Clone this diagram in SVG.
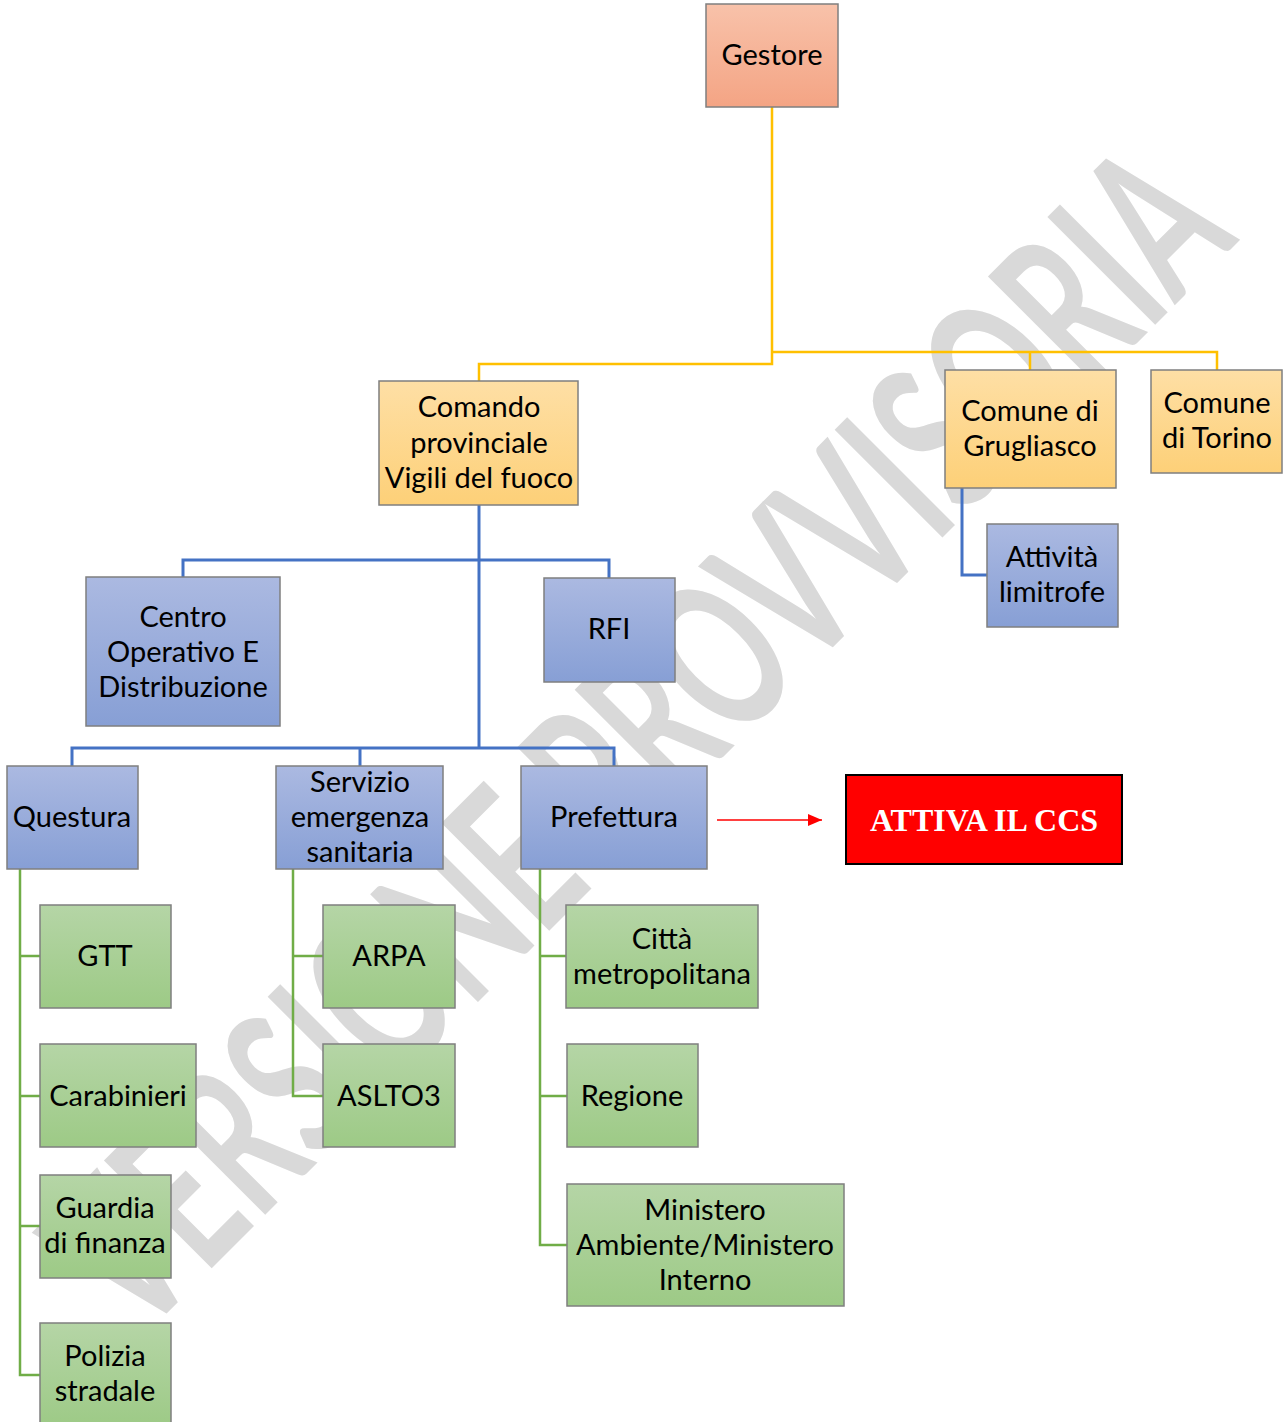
<svg xmlns="http://www.w3.org/2000/svg" width="1285" height="1422" viewBox="0 0 1285 1422">
<defs>
<linearGradient id="gSalmon" x1="0" y1="0" x2="0" y2="1"><stop offset="0" stop-color="#f8c2aa"/><stop offset="1" stop-color="#f4a484"/></linearGradient>
<linearGradient id="gYellow" x1="0" y1="0" x2="0" y2="1"><stop offset="0" stop-color="#fedfa5"/><stop offset="1" stop-color="#fdd078"/></linearGradient>
<linearGradient id="gBlue" x1="0" y1="0" x2="0" y2="1"><stop offset="0" stop-color="#abb9e1"/><stop offset="1" stop-color="#879fd5"/></linearGradient>
<linearGradient id="gGreen" x1="0" y1="0" x2="0" y2="1"><stop offset="0" stop-color="#b5d5a6"/><stop offset="1" stop-color="#9dca86"/></linearGradient>
<marker id="arrowRed" viewBox="0 0 10 10" refX="10" refY="5" markerWidth="14" markerHeight="12" markerUnits="userSpaceOnUse" orient="auto" preserveAspectRatio="none"><path d="M0,0 L10,5 L0,10 Z" fill="#ff0000"/></marker>
</defs>
<style>
.box{stroke:#7f7f7f;stroke-width:1.5}
.t{font-family:Lato,"Liberation Sans",sans-serif;font-size:29px;fill:#000;text-anchor:middle}
.yl{fill:none;stroke:#ffc000;stroke-width:2.5}
.bl{fill:none;stroke:#4472c4;stroke-width:3}
.gl{fill:none;stroke:#70ad47;stroke-width:2.5}
.wm{font-family:Lato,"Liberation Sans",sans-serif;font-size:155px;font-weight:bold;fill:#d9d9d9}
</style>
<rect width="1285" height="1422" fill="#ffffff"/>
<g id="watermark" transform="translate(140,1340) rotate(-45) scale(1,1.36)">
<text class="wm" x="0" y="0" textLength="1555" lengthAdjust="spacingAndGlyphs">VERSIONE PROVVISORIA</text>
</g>
<g id="connectors">
<path class="yl" d="M772,107 V364 H479 V381"/>
<path class="yl" d="M772,352 H1217 V370"/>
<path class="yl" d="M1030,352 V370"/>
<path class="bl" d="M479,505 V748"/>
<path class="bl" d="M183,577 V560 H609 V578"/>
<path class="bl" d="M72,766 V748 H614 V766"/>
<path class="bl" d="M360,748 V766"/>
<path class="bl" d="M962,488 V575 H987"/>
<path class="gl" d="M20,869 V1375 H40"/>
<path class="gl" d="M20,956 H40 M20,1096 H40 M20,1226 H40"/>
<path class="gl" d="M293,869 V1096 H323 M293,956 H323"/>
<path class="gl" d="M540,869 V1245 H567 M540,956 H566 M540,1096 H567"/>
<line x1="717" y1="820" x2="822" y2="820" stroke="#ff0000" stroke-width="1.5" marker-end="url(#arrowRed)"/>
</g>
<g id="gestore"><rect class="box" x="706" y="4" width="132" height="103" fill="url(#gSalmon)"/><text class="t" x="772" y="65">Gestore</text></g>
<g id="comando"><rect class="box" x="379" y="381" width="199" height="124" fill="url(#gYellow)"/><text class="t" x="479" y="417">Comando</text><text class="t" x="479" y="453">provinciale</text><text class="t" x="479" y="488">Vigili del fuoco</text></g>
<g id="grugliasco"><rect class="box" x="945" y="370" width="171" height="118" fill="url(#gYellow)"/><text class="t" x="1030" y="421">Comune di</text><text class="t" x="1030" y="456">Grugliasco</text></g>
<g id="torino"><rect class="box" x="1151" y="370" width="131" height="103" fill="url(#gYellow)"/><text class="t" x="1217" y="413">Comune</text><text class="t" x="1217" y="448">di Torino</text></g>
<g id="attivita"><rect class="box" x="987" y="524" width="131" height="103" fill="url(#gBlue)"/><text class="t" x="1052" y="567">Attività</text><text class="t" x="1052" y="602">limitrofe</text></g>
<g id="centro"><rect class="box" x="86" y="577" width="194" height="149" fill="url(#gBlue)"/><text class="t" x="183" y="627">Centro</text><text class="t" x="183" y="662">Operativo E</text><text class="t" x="183" y="697">Distribuzione</text></g>
<g id="rfi"><rect class="box" x="544" y="578" width="131" height="104" fill="url(#gBlue)"/><text class="t" x="609" y="639">RFI</text></g>
<g id="questura"><rect class="box" x="7" y="766" width="131" height="103" fill="url(#gBlue)"/><text class="t" x="72" y="827">Questura</text></g>
<g id="servizio"><rect class="box" x="276" y="766" width="167" height="103" fill="url(#gBlue)"/><text class="t" x="360" y="792">Servizio</text><text class="t" x="360" y="827">emergenza</text><text class="t" x="360" y="862">sanitaria</text></g>
<g id="prefettura"><rect class="box" x="521" y="766" width="186" height="103" fill="url(#gBlue)"/><text class="t" x="614" y="827">Prefettura</text></g>
<g id="ccs"><rect x="846" y="775" width="276" height="89" fill="#ff0000" stroke="#000000" stroke-width="2"/><text x="984" y="831" font-family="'Liberation Serif','Times New Roman',serif" font-size="32" font-weight="bold" fill="#ffffff" text-anchor="middle">ATTIVA IL CCS</text></g>
<g id="gtt"><rect class="box" x="40" y="905" width="131" height="103" fill="url(#gGreen)"/><text class="t" x="105" y="966">GTT</text></g>
<g id="carabinieri"><rect class="box" x="40" y="1044" width="156" height="103" fill="url(#gGreen)"/><text class="t" x="118" y="1106">Carabinieri</text></g>
<g id="guardia"><rect class="box" x="40" y="1175" width="131" height="103" fill="url(#gGreen)"/><text class="t" x="105" y="1218">Guardia</text><text class="t" x="105" y="1253">di finanza</text></g>
<g id="polizia"><rect class="box" x="40" y="1323" width="131" height="104" fill="url(#gGreen)"/><text class="t" x="105" y="1366">Polizia</text><text class="t" x="105" y="1401">stradale</text></g>
<g id="arpa"><rect class="box" x="323" y="905" width="132" height="103" fill="url(#gGreen)"/><text class="t" x="389" y="966">ARPA</text></g>
<g id="aslto3"><rect class="box" x="323" y="1044" width="132" height="103" fill="url(#gGreen)"/><text class="t" x="389" y="1106">ASLTO3</text></g>
<g id="citta"><rect class="box" x="566" y="905" width="192" height="103" fill="url(#gGreen)"/><text class="t" x="662" y="949">Città</text><text class="t" x="662" y="984">metropolitana</text></g>
<g id="regione"><rect class="box" x="567" y="1044" width="131" height="103" fill="url(#gGreen)"/><text class="t" x="632" y="1106">Regione</text></g>
<g id="ministero"><rect class="box" x="567" y="1184" width="277" height="122" fill="url(#gGreen)"/><text class="t" x="705" y="1220">Ministero</text><text class="t" x="705" y="1255">Ambiente/Ministero</text><text class="t" x="705" y="1290">Interno</text></g>
</svg>
